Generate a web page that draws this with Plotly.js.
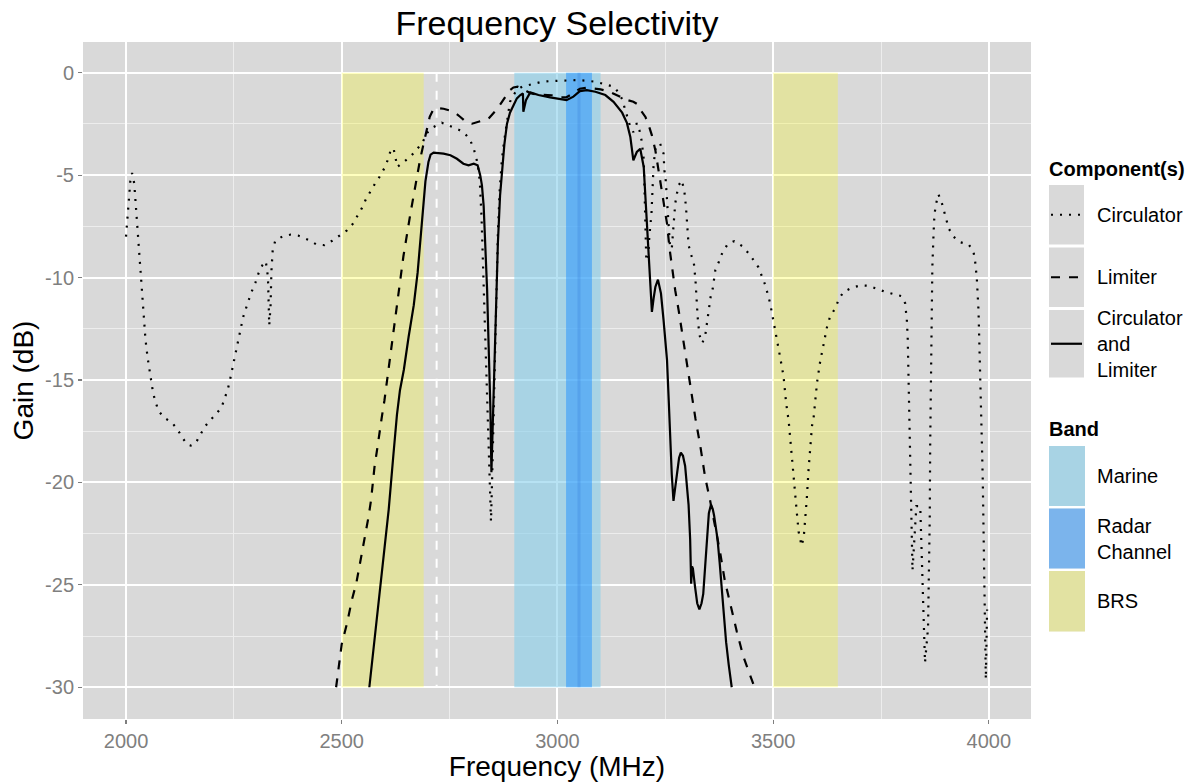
<!DOCTYPE html>
<html><head><meta charset="utf-8">
<script src="https://cdn.plot.ly/plotly-3.0.1.min.js"></script>
<style>html,body{margin:0;padding:0;background:#fff}#chart{width:1193px;height:782px}</style>
</head><body><div id="chart"></div>
<script>
// ---- data ----
const circFreq = [2000,2002,2005,2008,2010,2014,2019,2022,2025,2029,2034,2038,2041,2045,2050,2056,2063,2069,2075,2089,2106,2119,2130,2142,2150,2161,2172,2182,2195,2209,2222,2229,2236,2241,2245,2249,2253,2258,2262,2267,2272,2278,2285,2292,2300,2307,2316,2324,2329,2332,2335,2337,2340,2346,2362,2382,2399,2422,2441,2460,2478,2495,2512,2526,2537,2547,2556,2566,2577,2589,2599,2607,2613,2620,2624,2629,2643,2659,2674,2688,2697,2713,2732,2751,2771,2786,2798,2806,2812,2816,2820,2824,2828,2832,2836,2840,2843,2846,2849,2852,2855,2858,2862,2866,2871,2876,2880,2884,2890,2898,2906,2918,2945,2964,2983,3006,3026,3047,3068,3088,3111,3130,3142,3150,3157,3163,3169,3176,3184,3190,3195,3200,3203,3206,3210,3213,3218,3223,3228,3238,3246,3248,3251,3254,3256,3258,3261,3265,3269,3273,3277,3281,3288,3294,3298,3301,3304,3310,3316,3320,3322,3325,3329,3336,3343,3349,3355,3360,3366,3374,3382,3395,3410,3428,3443,3455,3466,3474,3482,3493,3501,3509,3516,3524,3530,3536,3540,3544,3547,3551,3555,3559,3566,3571,3575,3578,3582,3586,3590,3594,3598,3602,3609,3617,3625,3632,3644,3652,3663,3683,3702,3721,3740,3760,3778,3797,3806,3810,3812,3814,3816,3818,3820,3823,3826,3830,3832,3841,3843,3846,3849,3852,3859,3861,3863,3864,3866,3868,3869,3872,3874,3878,3883,3890,3895,3901,3907,3918,3934,3953,3964,3968,3972,3976,3978,3980,3982,3984,3986,3988,3990,3993,3996];
const circGain = [-8.0,-7.5,-6.6,-5.74,-5.29,-4.9,-5.4,-6.26,-7.16,-8.5,-9.84,-11.2,-12.1,-13.0,-13.9,-14.8,-15.66,-16.1,-16.5,-16.85,-17.07,-17.4,-17.8,-18.15,-18.2,-18.1,-17.7,-17.3,-16.96,-16.67,-16.3,-15.9,-15.45,-15.0,-14.57,-14.13,-13.7,-13.25,-12.8,-12.38,-11.9,-11.48,-11.06,-10.65,-10.25,-9.8,-9.4,-9.2,-9.97,-12.33,-11.4,-9.7,-8.67,-8.2,-8.0,-7.9,-7.95,-8.15,-8.38,-8.42,-8.2,-7.95,-7.7,-7.37,-7.0,-6.6,-6.18,-5.79,-5.42,-5.04,-4.65,-4.25,-3.82,-3.68,-4.1,-4.6,-4.37,-4.1,-3.75,-3.38,-2.95,-2.65,-2.44,-2.6,-2.78,-2.98,-3.3,-3.71,-4.16,-4.6,-5.3,-7.0,-9.8,-12.8,-15.6,-18.3,-20.4,-21.9,-19.5,-16.5,-13.2,-10.3,-7.8,-5.8,-4.3,-3.4,-2.8,-2.2,-1.42,-1.09,-0.85,-0.68,-0.52,-0.44,-0.41,-0.39,-0.36,-0.36,-0.39,-0.44,-0.57,-0.68,-0.97,-1.3,-1.8,-2.2,-2.65,-2.9,-2.46,-2.8,-3.3,-4.2,-6.5,-9.16,-9.16,-8.0,-6.88,-4.44,-3.63,-3.46,-3.95,-4.77,-5.25,-6.23,-7.04,-7.85,-8.5,-8.6,-7.69,-6.39,-5.9,-5.5,-5.25,-5.74,-6.56,-7.53,-8.42,-8.9,-9.24,-10.13,-11.1,-11.92,-12.8,-13.2,-12.77,-11.84,-10.95,-10.54,-9.64,-9.24,-8.8,-8.35,-8.22,-8.46,-8.81,-9.16,-9.5,-9.94,-10.38,-11.25,-12.1,-13.0,-13.86,-14.8,-16.1,-17.0,-17.87,-18.8,-19.7,-20.6,-21.5,-22.4,-23.1,-22.66,-21.7,-20.8,-19.4,-18.2,-17.25,-16.8,-15.95,-15.08,-14.1,-13.25,-12.4,-11.9,-11.5,-11.07,-10.7,-10.5,-10.38,-10.4,-10.55,-10.7,-10.8,-10.9,-11.25,-12.1,-13.0,-14.7,-16.5,-18.2,-21.2,-24.3,-23.2,-22.0,-21.16,-21.16,-22.5,-25.0,-27.0,-28.8,-27.1,-24.8,-21.7,-18.2,-14.7,-11.25,-9.5,-7.76,-6.9,-6.37,-5.94,-6.28,-6.7,-7.16,-7.6,-8.0,-8.28,-8.38,-8.7,-9.16,-10.0,-11.6,-13.0,-14.7,-16.5,-18.2,-20.0,-23.0,-26.2,-29.6,-26.2];

const limFreq = [2487,2493,2500,2512,2524,2534,2541,2549,2556,2562,2568,2572,2576,2582,2587,2593,2599,2613,2628,2643,2659,2674,2682,2690,2697,2704,2713,2724,2736,2759,2775,2790,2802,2821,2840,2860,2871,2880,2890,2898,2908,2920,2937,2952,2987,3006,3021,3037,3052,3068,3085,3100,3120,3138,3160,3176,3184,3192,3204,3212,3219,3227,3233,3238,3246,3254,3260,3267,3273,3281,3288,3296,3308,3320,3331,3342,3354,3365,3377,3388,3400,3416,3431,3443,3455];
const limGain = [-30.0,-29.0,-27.9,-26.9,-25.7,-24.9,-24.1,-23.3,-22.5,-21.7,-20.86,-20.05,-19.24,-18.4,-17.6,-16.8,-16.0,-13.7,-11.35,-8.96,-6.9,-5.0,-4.2,-3.45,-2.8,-2.15,-1.76,-1.73,-1.76,-1.89,-2.16,-2.44,-2.49,-2.37,-2.25,-1.78,-1.43,-1.15,-0.85,-0.72,-0.68,-0.8,-1.0,-1.07,-1.1,-1.2,-1.2,-1.0,-0.78,-0.73,-0.78,-0.81,-0.92,-1.09,-1.32,-1.42,-1.52,-1.8,-2.16,-2.6,-3.06,-3.79,-4.6,-5.25,-6.39,-7.37,-8.6,-9.8,-10.62,-11.6,-12.57,-13.7,-15.2,-16.9,-18.2,-19.7,-20.9,-22.1,-23.4,-24.8,-25.9,-27.3,-28.5,-29.2,-29.9];

const bothFreq = [2564,2578,2593,2609,2620,2628,2635,2644,2655,2667,2676,2682,2688,2694,2701,2706,2713,2736,2752,2767,2782,2794,2806,2815,2821,2825,2829,2833,2837,2840.5,2844.5,2847,2850.5,2854,2858,2862,2867,2872,2877,2883,2890,2898,2906,2914,2920,2921,2927,2937,2956,2983,3006,3021,3037,3052,3068,3088,3111,3130,3150,3161,3169,3176,3184,3192,3200,3204,3208,3211.5,3215.5,3219,3223,3227,3233,3240,3246,3250,3254,3258,3262,3265,3269,3273,3277,3282,3286,3291,3296,3300,3304,3307.6,3309,3310,3312,3314,3319,3324,3329,3334,3338,3342,3346,3351,3356,3360,3363,3367,3371,3376,3381,3386,3391,3397,3404];
const bothGain = [-30.0,-27.3,-24.3,-21.3,-18.6,-16.7,-15.5,-14.5,-12.9,-11.35,-9.75,-8.16,-6.57,-5.3,-4.36,-4.0,-3.9,-3.95,-4.03,-4.2,-4.44,-4.52,-4.44,-4.52,-5.0,-5.5,-6.5,-8.2,-10.6,-13.3,-16.3,-19.5,-17.0,-14.0,-11.0,-8.3,-6.0,-4.6,-3.5,-2.5,-1.95,-1.6,-1.25,-1.09,-1.01,-1.9,-1.34,-0.96,-1.09,-1.2,-1.29,-1.34,-1.17,-0.9,-0.85,-0.93,-1.09,-1.42,-1.95,-2.45,-3.14,-4.28,-3.87,-3.71,-4.6,-6.07,-7.7,-9.32,-10.95,-11.68,-11.0,-10.46,-10.1,-10.78,-12.08,-12.9,-14.03,-16.0,-18.2,-19.6,-20.9,-20.2,-19.6,-18.8,-18.55,-18.7,-19.2,-20.0,-21.1,-22.76,-24.1,-24.94,-24.1,-24.2,-25.1,-25.9,-26.2,-25.9,-25.44,-24.2,-22.76,-21.5,-21.08,-21.3,-21.6,-22.1,-22.76,-23.9,-25.27,-26.5,-27.8,-28.9,-30.0];

const seriesNames = ['Circulator', 'Limiter', 'Circulator<br>and<br>Limiter'];
const bandNames  = ['Marine', 'Radar<br>Channel', 'BRS'];
const bandStarts = [[2900], [3020], [2500, 3500]];
const bandEnds   = [[3100], [3080], [2690, 3650]];
const bandTop = 0, bandBottom = -30;
const markerFreq = 2720;
const xTickVals = [2000, 2500, 3000, 3500, 4000];
const yTickVals = [0, -5, -10, -15, -20, -25, -30];

// ---- styles ----
const bandFill = ['rgba(135,206,235,0.6)', 'rgba(30,144,255,0.5)', 'rgba(255,255,0,0.25)'];
const lineDash = ['2px,7px', '9px,9px', 'solid'];
const LW = 2.2;
const FONT = 'Liberation Sans, Arial, Helvetica, sans-serif';

const W = 1193, H = 782, M = {l: 83, r: 162, t: 42, b: 63};
const PW = W - M.l - M.r, PH = H - M.t - M.b;
const fx = p => (p - M.l) / PW;
const fy = p => (H - M.b - p) / PH;

const traces = [];
// bands (BRS first, then marine, then radar on top)
[2, 0, 1].forEach(i => {
  bandStarts[i].forEach((s, k) => {
    const e = bandEnds[i][k];
    traces.push({x: [s, e, e, s, s], y: [bandTop, bandTop, bandBottom, bandBottom, bandTop],
      type: 'scatter', mode: 'lines', fill: 'toself', fillcolor: bandFill[i],
      line: {width: 0, color: 'rgba(0,0,0,0)'}, hoverinfo: 'skip', showlegend: false});
  });
});
// subtle centre stripe of the radar channel
const radarMid = (bandStarts[1][0] + bandEnds[1][0]) / 2;
traces.push({x: [radarMid, radarMid], y: [bandTop, bandBottom], type: 'scatter', mode: 'lines',
  line: {color: 'rgba(40,110,210,0.22)', width: 3}, hoverinfo: 'skip', showlegend: false});
// white dashed marker
traces.push({x: [markerFreq, markerFreq], y: [bandTop, bandBottom], type: 'scatter', mode: 'lines',
  line: {color: '#ffffff', width: 2, dash: '9px,9px'}, hoverinfo: 'skip', showlegend: false});

const sx = [circFreq, limFreq, bothFreq], sy = [circGain, limGain, bothGain];
for (let i = 0; i < 3; i++) {
  traces.push({x: sx[i], y: sy[i], type: 'scatter', mode: 'lines', name: seriesNames[i],
    line: {color: '#000000', width: LW, dash: lineDash[i]}, showlegend: false});
}

// ---- manual ggplot-style legend ----
const shapes = [], annotations = [];
const keyX0 = 1049, keyX1 = 1084;
const compKeyY = [[185, 244.5], [247.5, 307], [310, 377.5]];
const bandKeyY = [[446, 506], [508.5, 568.5], [571, 631.5]];
const labelX = 1095;
annotations.push({text: '<b>Component(s)</b>', x: fx(1047), y: fy(169), xref: 'paper', yref: 'paper',
  xanchor: 'left', yanchor: 'middle', showarrow: false, font: {size: 20, color: '#000', family: FONT}});
annotations.push({text: '<b>Band</b>', x: fx(1047), y: fy(429), xref: 'paper', yref: 'paper',
  xanchor: 'left', yanchor: 'middle', showarrow: false, font: {size: 20, color: '#000', family: FONT}});
compKeyY.forEach((r, i) => {
  shapes.push({type: 'rect', xref: 'paper', yref: 'paper', x0: fx(keyX0), x1: fx(keyX1), y0: fy(r[0]), y1: fy(r[1]),
    fillcolor: '#D9D9D9', line: {width: 0}, layer: 'above'});
  const yc = (r[0] + r[1]) / 2;
  shapes.push({type: 'line', xref: 'paper', yref: 'paper', x0: fx(keyX0 + 2), x1: fx(keyX1 - 2), y0: fy(yc), y1: fy(yc),
    line: {color: '#000', width: LW, dash: lineDash[i]}, layer: 'above'});
  annotations.push({text: seriesNames[i], x: fx(labelX), y: fy(yc), xref: 'paper', yref: 'paper',
    xanchor: 'left', yanchor: 'middle', align: 'left', showarrow: false, font: {size: 20, color: '#000', family: FONT}});
});
bandKeyY.forEach((r, i) => {
  shapes.push({type: 'rect', xref: 'paper', yref: 'paper', x0: fx(keyX0), x1: fx(keyX1 + 1), y0: fy(r[0]), y1: fy(r[1]),
    fillcolor: '#D9D9D9', line: {width: 0}, layer: 'above'});
  shapes.push({type: 'rect', xref: 'paper', yref: 'paper', x0: fx(keyX0), x1: fx(keyX1 + 1), y0: fy(r[0]), y1: fy(r[1]),
    fillcolor: bandFill[i], line: {width: 0}, layer: 'above'});
  const yc = (r[0] + r[1]) / 2;
  annotations.push({text: bandNames[i], x: fx(labelX), y: fy(yc), xref: 'paper', yref: 'paper',
    xanchor: 'left', yanchor: 'middle', align: 'left', showarrow: false, font: {size: 20, color: '#000', family: FONT}});
});

const layout = {
  width: W, height: H, margin: M,
  paper_bgcolor: '#ffffff', plot_bgcolor: '#D9D9D9',
  font: {family: FONT, color: '#000'},
  showlegend: false,
  title: {text: 'Frequency Selectivity', font: {size: 34, color: '#000', family: FONT},
          x: 0.5, xref: 'paper', xanchor: 'center', y: 1 - 23 / H, yref: 'container', yanchor: 'middle'},
  xaxis: {range: [1900.3, 4097.7], tickvals: xTickVals, ticktext: xTickVals.map(String),
    showgrid: true, gridcolor: '#ffffff', gridwidth: 2, zeroline: false, showline: false,
    ticks: 'outside', ticklen: 4, tickwidth: 1.2, tickcolor: '#7F7F7F',
    tickfont: {size: 20, color: '#7F7F7F', family: FONT},
    minor: {dtick: 250, tick0: 2250, showgrid: true, gridcolor: '#EDEDED', gridwidth: 1, ticks: ''},
    title: {text: 'Frequency (MHz)', font: {size: 28, color: '#000', family: FONT}, standoff: 2},
    automargin: false, fixedrange: true},
  yaxis: {range: [-31.55, 1.5], tickvals: yTickVals, ticktext: yTickVals.map(String),
    showgrid: true, gridcolor: '#ffffff', gridwidth: 2, zeroline: false, showline: false,
    ticks: 'outside', ticklen: 4, tickwidth: 1.2, tickcolor: '#7F7F7F',
    tickfont: {size: 20, color: '#7F7F7F', family: FONT},
    minor: {dtick: 2.5, tick0: -2.5, showgrid: true, gridcolor: '#EDEDED', gridwidth: 1, ticks: ''},
    title: {text: 'Gain (dB)', font: {size: 28, color: '#000', family: FONT}, standoff: 3},
    automargin: false, fixedrange: true},
  shapes: shapes, annotations: annotations
};
Plotly.newPlot('chart', traces, layout, {staticPlot: true, displayModeBar: false});
</script>
</body></html>
